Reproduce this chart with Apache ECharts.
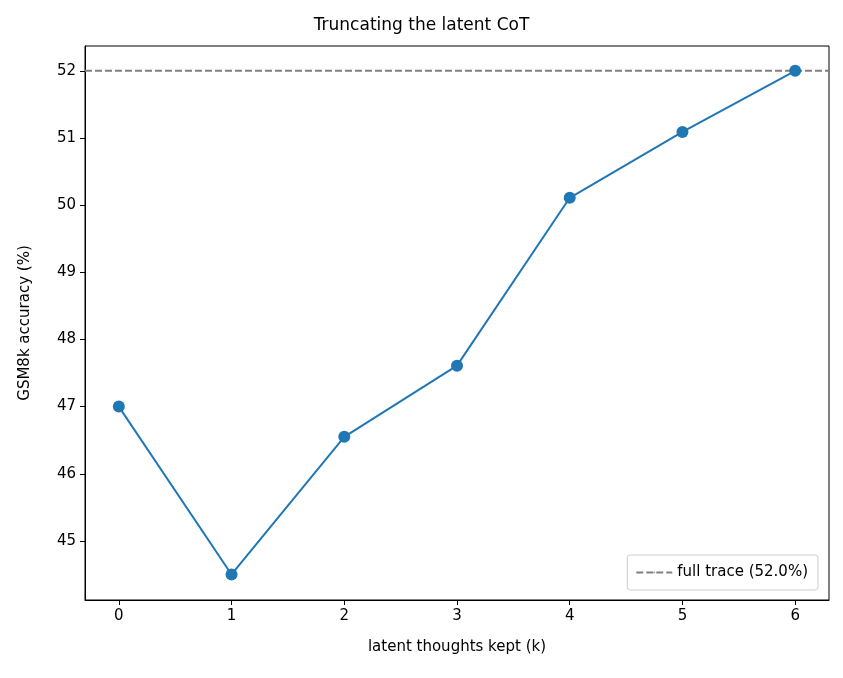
<!DOCTYPE html>
<html><head><meta charset="utf-8">
<script src="https://cdn.jsdelivr.net/npm/echarts@6/dist/echarts.min.js"></script>
<style>html,body{margin:0;padding:0;background:#fff}#c{width:843px;height:678px}</style>
</head><body><div id="c"></div>
<script>
const kValues = [0, 1, 2, 3, 4, 5, 6];
const accuracy = [47.0, 44.5, 46.55, 47.61, 50.11, 51.09, 52.0];
const fullTrace = 52.0;
const xTicks = [0, 1, 2, 3, 4, 5, 6];
const yTicks = [45, 46, 47, 48, 49, 50, 51, 52];

const chart = echarts.init(document.getElementById('c'));
const font = 'DejaVu Sans';
chart.setOption({
  animation: false,
  textStyle: {fontFamily: font},
  title: {text: 'Truncating the latent CoT', left: 'center', top: 12,
    textStyle: {fontFamily: font, fontSize: 17, fontWeight: 'normal', color: '#000'}},
  grid: {left: 85, right: 14, top: 46, bottom: 78, show: true, borderColor: '#000', borderWidth: 1},
  xAxis: {type: 'value', min: -0.3, max: 6.3,
    name: 'latent thoughts kept (k)', nameLocation: 'middle', nameGap: 40,
    nameTextStyle: {fontFamily: font, fontSize: 15, color: '#000'},
    axisLine: {onZero: false, lineStyle: {color: '#000'}},
    axisTick: {show: true, customValues: xTicks, length: 5, lineStyle: {color: '#000'}},
    axisLabel: {customValues: xTicks, fontFamily: font, fontSize: 15, color: '#000', margin: 9},
    splitLine: {show: false}},
  yAxis: {type: 'value', min: 44.12, max: 52.37,
    name: 'GSM8k accuracy (%)', nameLocation: 'middle', nameGap: 52,
    nameTextStyle: {fontFamily: font, fontSize: 15, color: '#000'},
    axisLine: {show: true, onZero: false, lineStyle: {color: '#000'}},
    axisTick: {show: true, customValues: yTicks, length: 5, lineStyle: {color: '#000'}},
    axisLabel: {customValues: yTicks, fontFamily: font, fontSize: 15, color: '#000', margin: 9},
    splitLine: {show: false}},
  legend: {right: 25, bottom: 88, orient: 'vertical',
    data: [{name: 'full trace (52.0%)'}],
    itemWidth: 36, itemHeight: 2, itemGap: 6,
    padding: [10, 10, 10, 8], borderColor: '#ccc', borderWidth: 1, borderRadius: 3,
    textStyle: {fontFamily: font, fontSize: 15, color: '#000'}},
  series: [
    {type: 'line', name: 'acc', data: kValues.map((k, i) => [k, accuracy[i]]),
     symbol: 'circle', symbolSize: 12, color: '#1f77b4', lineStyle: {width: 2, color: '#1f77b4'},
     itemStyle: {color: '#1f77b4'}, z: 3},
    {type: 'line', name: 'full trace (52.0%)', data: [[-0.3, fullTrace], [6.3, fullTrace]],
     symbol: 'none', color: '#808080', lineStyle: {type: [7, 3], width: 2, color: '#808080'},
     itemStyle: {color: '#808080'}, z: 2}
  ]
});
</script></body></html>
